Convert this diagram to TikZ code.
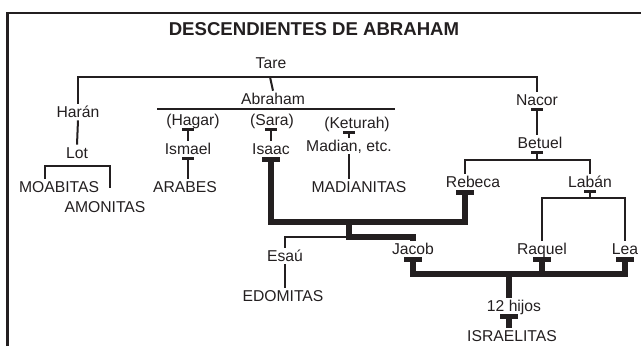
\documentclass[tikz,border=0pt]{standalone}
\usepackage{fontspec}
\setmainfont{Liberation Sans}
\usetikzlibrary{arrows.meta}
\definecolor{tinta}{RGB}{35,31,32}
\tikzset{
  nombre/.style={font=\fontsize{15.7}{16}\selectfont, text=tinta, inner sep=2.5pt, text height=11.2pt, text depth=0pt},
  rama/.style={draw=tinta, line width=2pt},
  tronco/.style={draw=tinta, line width=5.5pt},
  marco/.style={draw=tinta, line width=2.3pt},
  barrita/.tip={Bar[width=12pt 0 0,line width=3pt 0 0]},
  barra/.tip={Bar[width=18pt 0 0,line width=4.5pt 0 0]}
}

\begin{document}
\begin{tikzpicture}[x=1pt,y=-1pt]
  \useasboundingbox (0,0) rectangle (641,346);
  \draw[marco] (7.5,346) |- (641,12.7);
  \node[font=\fontsize{18.6}{19}\selectfont\bfseries, text=tinta] (titulo) at (314,29.5) {DESCENDIENTES DE ABRAHAM};

  \foreach \n/\x/\y/\t in {tare/271/63/Tare, abraham/273/99/Abraham, haran/78/112/Harán, lot/77/153/Lot,
      moabitas/59/187/MOABITAS, amonitas/105/207/AMONITAS, hagar/193/120/(Hagar), sara/272/120/(Sara),
      keturah/357/123/(Keturah), ismael/188/149/Ismael, isaac/271/149/Isaac, arabes/185/187/ARABES,
      madianitas/359/187/MADIANITAS, nacor/537/100/Nacor, betuel/540/143/Betuel, rebeca/473/182/Rebeca,
      laban/590/182/Labán, jacob/413/249/Jacob, raquel/542/249/Raquel, lea/625/249/Lea,
      esau/285/256/Esaú, edomitas/283/296/EDOMITAS, hijos/514/306/12 hijos, israelitas/512/336/ISRAELITAS}{
      \node[nombre] (\n) at (\x,\y) {\t};
  }
  \node[nombre] (madian) at (349,146) {Madian, etc.};

  \coordinate (tarelinea) at (270,77);
  \coordinate (ablinea1) at (157,109);
  \coordinate (ablinea2) at (395,109);
  \coordinate (lotlinea) at (77,166);
  \coordinate (betlinea) at (537,160);
  \coordinate (lablinea) at (590,198);
  \coordinate (boda) at (349,222);
  \coordinate (hermanos) at (349,237);
  \coordinate (familia) at (509,274);

  \draw[rama] (haran.north) |- (tarelinea) -| (nacor.north);
  \draw[rama] (tarelinea) -- (abraham.north);
  \draw[rama] (haran.south) -- (lot.north);
  \draw[rama] ([xshift=-14pt]moabitas.north) |- (lotlinea) -| ([xshift=5pt,yshift=11pt]amonitas.north);
  \draw[rama] (ablinea1) -- (ablinea2);
  \draw[rama, barrita-] (ismael.north |- hagar.south) -- (ismael.north);
  \draw[rama, barrita-] (ismael.south) -- (ismael.south |- arabes.north);
  \draw[rama, barrita-] (isaac.north |- sara.south) -- (isaac.north);
  \draw[rama, barrita-] (madian.north |- keturah.south) -- (madian.north);
  \draw[rama] (madian.south) -- (madian.south |- madianitas.north);
  \draw[rama, barrita-] (nacor.south) -- (nacor.south |- betuel.north);
  \draw[rama, barrita-] (betuel.south -| nacor) -- (betlinea);
  \draw[rama] ([xshift=-8pt]rebeca.north) |- (betlinea) -| (laban.north);
  \draw[rama, barrita-] (laban.south) -- (lablinea);
  \draw[rama] (raquel.north) |- (lablinea) -| (lea.north);

  \draw[tronco, barra-barra] (isaac.south) |- (boda) -| ([xshift=-8pt]rebeca.south);
  \draw[tronco] (boda) -- (hermanos) -| (jacob.north);
  \draw[rama] (hermanos) -| (esau.north);
  \draw[rama] (esau.south) -- (esau.south |- edomitas.north);
  \draw[tronco, barra-barra] (jacob.south) |- (familia) -| (lea.south);
  \draw[tronco, barra-] (raquel.south) -- (raquel.south |- familia);
  \draw[tronco] (familia) -- (familia |- hijos.north);
  \draw[tronco, barra-] (hijos.south -| familia) -- (israelitas.north -| familia);
\end{tikzpicture}
\end{document}
